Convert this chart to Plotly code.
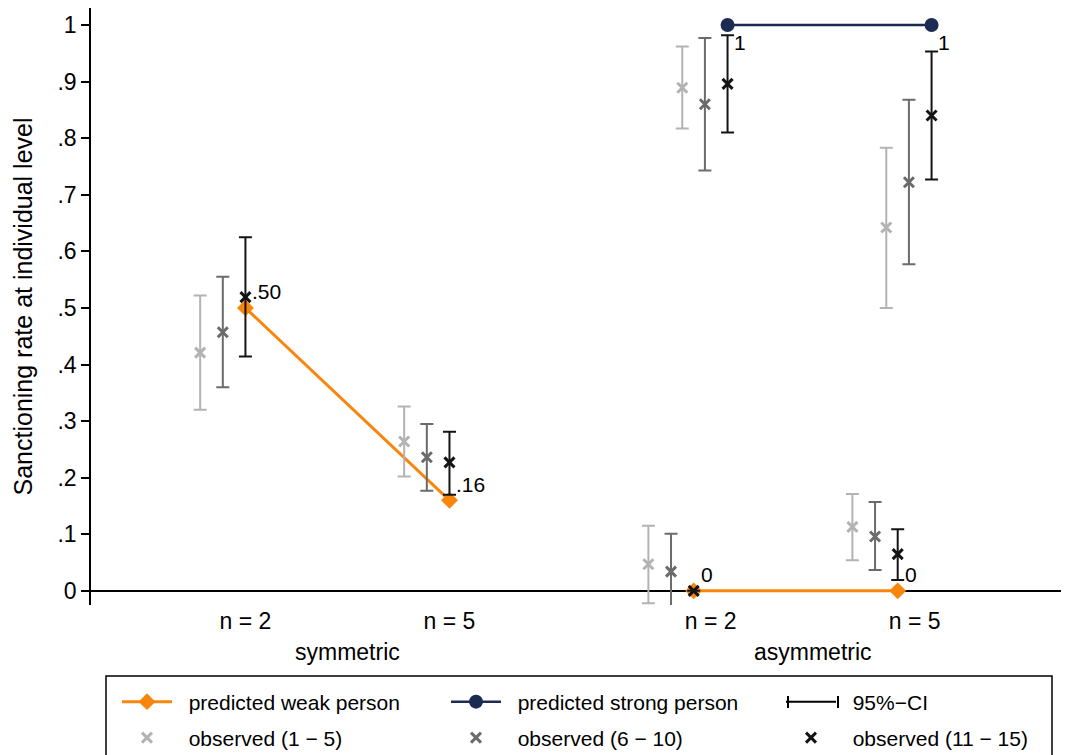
import plotly.graph_objects as go

# ---------------- data ----------------
tick_labels = ["n = 2", "n = 5", "n = 2", "n = 5"]
group_labels = ["symmetric", "asymmetric"]
cohorts = ["observed (1 \u2212 5)", "observed (6 \u2212 10)", "observed (11 \u2212 15)"]

# predicted values
pred_weak_sym = [0.50, 0.16]
pred_weak_asym = [0.0, 0.0]
pred_strong_asym = [1.0, 1.0]
pred_weak_lbl = [".50", ".16", "0", "0"]
pred_strong_lbl = ["1", "1"]

# observed means  [sym n2, sym n5, asym-weak n2, asym-weak n5, asym-strong n2, asym-strong n5]
obs_1_5 = [0.421, 0.264, 0.047, 0.113, 0.889, 0.642]
obs_1_5_lo = [0.320, 0.202, -0.022, 0.054, 0.817, 0.500]
obs_1_5_hi = [0.522, 0.326, 0.115, 0.171, 0.962, 0.783]

obs_6_10 = [0.457, 0.236, 0.034, 0.096, 0.860, 0.722]
obs_6_10_lo = [0.360, 0.177, -0.032, 0.037, 0.743, 0.577]
obs_6_10_hi = [0.555, 0.295, 0.101, 0.157, 0.977, 0.868]

obs_11_15 = [0.519, 0.227, 0.000, 0.065, 0.896, 0.840]
obs_11_15_lo = [0.414, 0.170, 0.000, 0.019, 0.810, 0.727]
obs_11_15_hi = [0.625, 0.281, 0.000, 0.109, 0.982, 0.953]

# ---------------- layout helpers ----------------
OFF = 8                      # page body margin of the html page
W, H = 1069 - OFF, 755 - OFF
ML, MR, MT, MB = 83, 4, 0, 150
PW, PH = W - ML - MR, H - MT - MB

def px_x(p):                 # screen pixel -> paper x
    return (p - OFF - ML) / PW

def px_y(p):                 # screen pixel -> paper y
    return (H - MB - (p - OFF)) / PH

centers = [1.0, 2.0, 3.28, 4.28]
role_off = 0.083
step = 0.111
pos_sym = [centers[0], centers[1]]
pos_weak = [centers[2] - role_off, centers[3] - role_off]
pos_strong = [centers[2] + role_off, centers[3] + role_off]
base_pos = pos_sym + pos_weak + pos_strong

ORANGE = "#f8860d"
NAVY = "#1c2b52"
FONT = "Liberation Sans, Arial, sans-serif"
gray_cols = ["#b3b3b3", "#6b6b6b", "#141414"]
PAD = "\u00a0\u00a0"

fig = go.Figure()

# predicted weak person
fig.add_trace(go.Scatter(
    x=pos_sym + [None] + pos_weak,
    y=pred_weak_sym + [None] + pred_weak_asym,
    mode="lines+markers",
    line=dict(color=ORANGE, width=3),
    marker=dict(symbol="diamond", size=13, color=ORANGE),
    name=PAD + "predicted weak person", legend="legend",
))
# predicted strong person
fig.add_trace(go.Scatter(
    x=pos_strong, y=pred_strong_asym,
    mode="lines+markers",
    line=dict(color=NAVY, width=2.5),
    marker=dict(symbol="circle", size=14, color=NAVY),
    name=PAD + "predicted strong person", legend="legend2",
))
# CI legend entry
fig.add_trace(go.Scatter(
    x=[None], y=[None], mode="lines",
    line=dict(color="black", width=2),
    name=PAD + "95%\u2212CI", legend="legend3",
))

obs_sets = [
    (obs_1_5, obs_1_5_lo, obs_1_5_hi),
    (obs_6_10, obs_6_10_lo, obs_6_10_hi),
    (obs_11_15, obs_11_15_lo, obs_11_15_hi),
]
for k, (m, lo, hi) in enumerate(obs_sets):
    off = -step * (2 - k)
    xs = [p + off for p in base_pos]
    fig.add_trace(go.Scatter(
        x=xs, y=m, mode="markers",
        marker=dict(symbol="x-thin", size=10, color=gray_cols[k],
                    line=dict(width=3, color=gray_cols[k])),
        error_y=dict(type="data", symmetric=False,
                     array=[h - v for h, v in zip(hi, m)],
                     arrayminus=[v - l for v, l in zip(m, lo)],
                     color=gray_cols[k], thickness=2, width=6.5),
        name=PAD + cohorts[k], legend="legend%d" % (4 + k),
    ))

# value labels of predicted points
lbl_font = dict(size=21, family=FONT, color="black")
for xv, yv, t in zip(pos_sym + pos_weak, pred_weak_sym + pred_weak_asym, pred_weak_lbl):
    fig.add_annotation(x=xv, y=yv, text=t, showarrow=False, xanchor="left",
                       yanchor="middle", xshift=5, yshift=16, font=lbl_font)
for xv, yv, t in zip(pos_strong, pred_strong_asym, pred_strong_lbl):
    fig.add_annotation(x=xv, y=yv, text=t, showarrow=False, xanchor="left",
                       yanchor="middle", xshift=4, yshift=-18, font=lbl_font)

# group labels under tick labels
for gi, gl in enumerate(group_labels):
    fig.add_annotation(x=(centers[2 * gi] + centers[2 * gi + 1]) / 2, y=px_y(652),
                       xref="x", yref="paper", text=gl, showarrow=False,
                       yanchor="middle", font=dict(size=23, family=FONT, color="black"))

# legend frame
fig.add_shape(type="rect", xref="paper", yref="paper",
              x0=px_x(106), x1=px_x(1052), y0=px_y(775), y1=px_y(676),
              line=dict(color="black", width=1.5), fillcolor="rgba(0,0,0,0)")
# caps of the CI key
for cx in (788, 838):
    fig.add_shape(type="line", xref="paper", yref="paper",
                  x0=px_x(cx), x1=px_x(cx), y0=px_y(696), y1=px_y(708),
                  line=dict(color="black", width=2))

ROW1, ROW2 = 702, 738
COLS = [117, 446, 781]

def leg(col, row):
    return dict(x=px_x(COLS[col]), y=px_y(row), orientation="v",
                xanchor="left", yanchor="middle",
                bgcolor="rgba(0,0,0,0)", borderwidth=0,
                font=dict(size=21, family=FONT, color="black"),
                itemwidth=50)

fig.update_layout(
    width=W, height=H,
    margin=dict(l=ML, r=MR, t=MT, b=MB, autoexpand=False),
    plot_bgcolor="white", paper_bgcolor="white",
    font=dict(family=FONT, color="black"),
    showlegend=True,
    legend=leg(0, ROW1), legend2=leg(1, ROW1), legend3=leg(2, ROW1),
    legend4=leg(0, ROW2), legend5=leg(1, ROW2), legend6=leg(2, ROW2),
    xaxis=dict(range=[0.243, 5.017], tickvals=centers, ticktext=tick_labels,
               showgrid=False, zeroline=False, showline=False, ticks="",
               tickfont=dict(size=23, family=FONT, color="black")),
    yaxis=dict(range=[-0.025, 1.03], tickvals=[i / 10 for i in range(11)],
               ticktext=["0"] + ["." + str(i) for i in range(1, 10)] + ["1"],
               showgrid=False, zeroline=True, zerolinecolor="black", zerolinewidth=1.5,
               showline=True, linecolor="black", linewidth=1.5,
               ticks="outside", ticklen=8, tickwidth=1.5, tickcolor="black",
               tickfont=dict(size=23, family=FONT, color="black"),
               title=dict(text="Sanctioning rate at individual level", standoff=18,
                          font=dict(size=25, family=FONT, color="black"))),
)

fig.write_html("out.html")
